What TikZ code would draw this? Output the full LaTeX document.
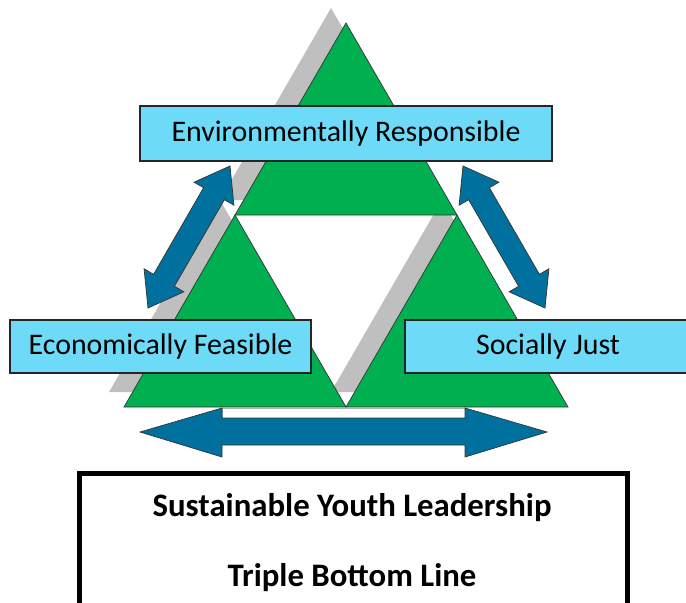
\documentclass[tikz,border=0pt]{standalone}
\usepackage{fontspec}
\setmainfont{Carlito}
\usetikzlibrary{positioning}

\definecolor{trigreen}{HTML}{00B050}
\definecolor{labelblue}{HTML}{6DDAF8}
\definecolor{arrowblue}{HTML}{00719F}
\definecolor{shadowgray}{HTML}{BFBFBF}
\newcommand{\px}{0.03cm}

\tikzset{
  pics/slantarrow/.style={code={
    \draw[blockarrow] (-82,0) -- (-50,-23) -- (-50,-12) -- (50,-12) -- (50,-23)
      -- (82,0) -- (50,23) -- (50,12) -- (-50,12) -- (-50,23) -- cycle;
  }}
}

\begin{document}
\begin{tikzpicture}[x=0.03cm, y=-0.03cm,
  tri/.style={fill=trigreen, draw=black!80, line width=0.6pt},
  shade/.style={fill=shadowgray},
  blockarrow/.style={fill=arrowblue, draw=black!80, line width=0.6pt},
  pillar/.style={draw=black!85, fill=labelblue, line width=0.9pt, inner sep=0pt,
    font=\fontsize{25.5}{30}\selectfont},
  titletext/.style={inner sep=0pt, font=\fontsize{28}{32}\selectfont\bfseries},
  ]
\useasboundingbox (0,0) rectangle (686,602);
\clip (0,0) rectangle (686,602);

% corners of the three triangles
\coordinate (apex) at (346,23);
\coordinate (midl) at (235,215);
\coordinate (midr) at (457,215);
\coordinate (botl) at (124,407);
\coordinate (botm) at (346,407);
\coordinate (botr) at (568,407);

% shadows
\tikzset{sh/.style={shift={(-15,-15)}}}
\fill[shade] ([sh]apex) -- ([sh]midl) -- ([sh]midr) -- cycle;
\fill[shade] ([sh]midl) -- ([sh]botl) -- ([sh]botm) -- cycle;
\fill[shade] ([sh]midr) -- ([sh]botm) -- ([sh]botr) -- cycle;

% green triangles
\draw[tri] (apex) -- (midl) -- (midr) -- cycle;
\draw[tri] (midl) -- (botl) -- (botm) -- cycle;
\draw[tri] (midr) -- (botm) -- (botr) -- cycle;

% bottom arrow
\draw[fill=white, draw=black!30, line width=0.5pt] (222,408) rectangle (465,418);
\draw[blockarrow] (140,432) -- (222,408) -- (222,418) -- (465,418) -- (465,408)
  -- (547,432) -- (465,457) -- (465,445) -- (222,445) -- (222,457) -- cycle;

% side arrows
\pic[rotate=60] at (189,237) {slantarrow};
\pic[rotate=120] at (504,237) {slantarrow};

% labels
\node[pillar, minimum width=412*\px, minimum height=55*\px] (env) at (346,133.5)
  {Environmentally Responsible};
\node[pillar, minimum width=301*\px, minimum height=53*\px] (econ) at (160.5,346.5)
  {Economically Feasible};
\node[pillar, minimum width=286*\px, minimum height=53*\px] (soc) at (548,346.5)
  {Socially Just};

% bottom frame
\node[draw=black, line width=4pt, minimum width=548*\px, minimum height=140*\px,
  inner sep=0pt] (frame) at (353.5,543.5) {};
\node[titletext] (syl) at (352,508) {Sustainable Youth Leadership};
\node[titletext] (tbl) at (352,578) {Triple Bottom Line};
\end{tikzpicture}
\end{document}
